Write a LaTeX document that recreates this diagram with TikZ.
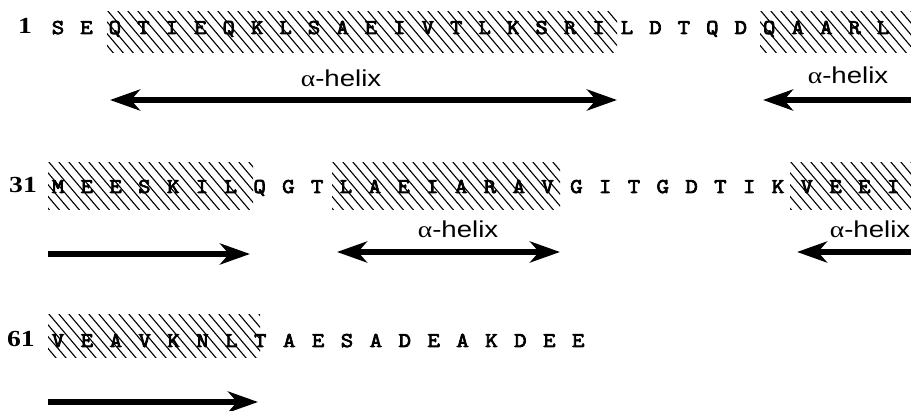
\documentclass[tikz,border=0pt]{standalone}
\usepackage{fontspec}
\usetikzlibrary{arrows.meta}
\newfontfamily\seqfont[FakeStretch=1.15,FakeBold=3.5]{Latin Modern Mono}
\newfontfamily\numfont[FakeStretch=1.2]{Liberation Serif}
\newfontfamily\lblfont[FakeStretch=1.2]{Liberation Sans}
\newfontfamily\grkfont[FakeStretch=1.2]{Liberation Serif}
\newcommand\helixlabel{{\grkfont α}-helix}
\newcommand\hatchregion[4]{%
  \begin{scope}
    \clip (#1,#3) rectangle (#2,#4);
    \foreach \k in {-8,...,55}
      \draw[hatchline] ({#1+10*\k},{#3-2}) -- ++(55,65);
  \end{scope}}
\begin{document}
\begin{tikzpicture}[x=1pt,y=-1pt,
  seq/.style={font=\seqfont\fontsize{21}{21}\selectfont, anchor=base, inner sep=0pt},
  num/.style={font=\numfont\bfseries\fontsize{23}{23}\selectfont, anchor=base east, inner sep=0pt},
  lbl/.style={font=\lblfont\fontsize{23}{23}\selectfont, anchor=base, inner sep=0pt},
  hatchline/.style={line width=1.1pt, black},
  helixarrow/.style={line width=6pt, -{Stealth[length=30pt,width=21pt,inset=9pt]}},
  helixboth/.style={line width=6pt, {Stealth[length=30pt,width=21pt,inset=9pt]}-{Stealth[length=30pt,width=21pt,inset=9pt]}}]
\useasboundingbox (0,0) rectangle (911,411);
\fill[white] (0,0) rectangle (911,411);

% hatched helix regions
\hatchregion{107}{617}{12}{53}
\hatchregion{760}{911}{12}{53}
\hatchregion{48}{253}{163}{210}
\hatchregion{332}{560}{163}{210}
\hatchregion{790}{911}{163}{210}
\hatchregion{48}{260}{315}{358}

% residue numbers
\node[num] (n1) at (32,34) {1};
\node[num] (n31) at (37,193) {31};
\node[num] (n61) at (35,347) {61};

% sequences
\foreach \c [count=\i] in {S,E,Q,T,I,E,Q,K,L,S,A,E,I,V,T,L,K,S,R,I,L,D,T,Q,D,Q,A,A,R,L}
  \node[seq] (a\i) at ({58+28.45*(\i-1)},34) {\c};
\foreach \c [count=\i] in {M,E,E,S,K,I,L,Q,G,T,L,A,E,I,A,R,A,V,G,I,T,G,D,T,I,K,V,E,E,I}
  \node[seq] (b\i) at ({58+28.8*(\i-1)},193) {\c};
\foreach \c [count=\i] in {V,E,A,V,K,N,L,T,A,E,S,A,D,E,A,K,D,E,E}
  \node[seq] (c\i) at ({58+28.9*(\i-1)},347) {\c};

% arrow end points
\coordinate (p1l) at (110,100);
\coordinate (p1r) at (617,100);
\coordinate (p2l) at (763,100);
\coordinate (p2r) at (911,100);
\coordinate (p3l) at (48,254);
\coordinate (p3r) at (250,254);
\coordinate (p4l) at (337,252);
\coordinate (p4r) at (560,252);
\coordinate (p5l) at (797,252);
\coordinate (p5r) at (911,252);
\coordinate (p6l) at (48,402);
\coordinate (p6r) at (258,402);

\draw[helixboth] (p1l) -- (p1r);
\draw[helixarrow] (p2r) -- (p2l);
\draw[helixarrow] (p3l) -- (p3r);
\draw[helixboth] (p4l) -- (p4r);
\draw[helixarrow] (p5r) -- (p5l);
\draw[helixarrow] (p6l) -- (p6r);

% labels
\node[lbl] (l1) at (341,87) {\helixlabel};
\node[lbl] (l2) at (848,84) {\helixlabel};
\node[lbl] (l3) at (458,238) {\helixlabel};
\node[lbl] (l4) at (870,238) {\helixlabel};
\end{tikzpicture}
\end{document}
